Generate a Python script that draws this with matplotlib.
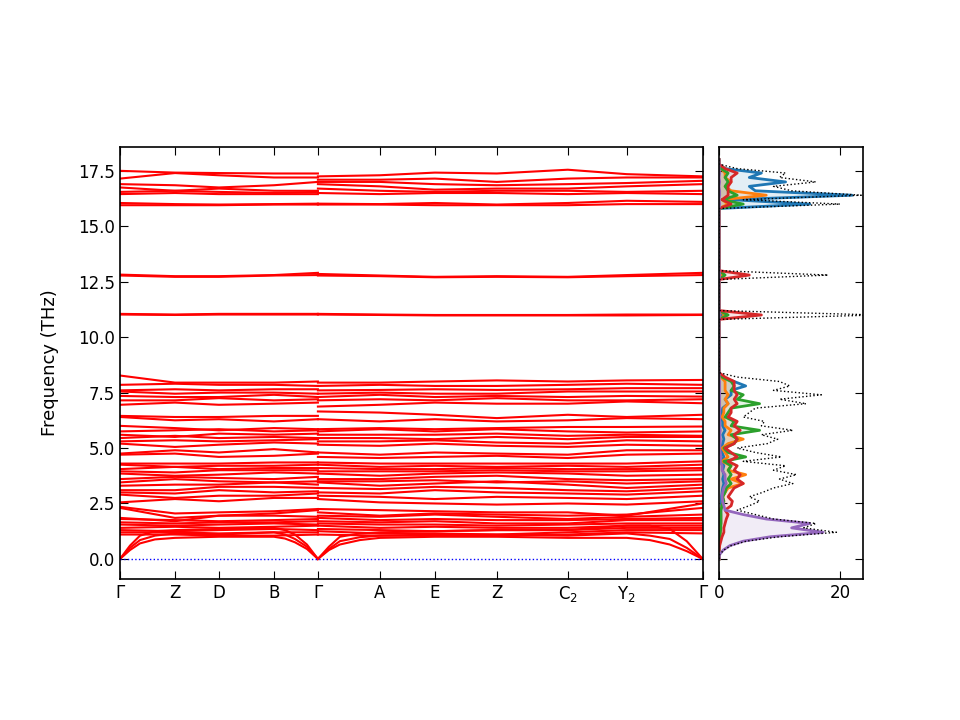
import matplotlib
matplotlib.use("Agg")
import matplotlib.pyplot as plt

# high-symmetry points along the path (path distance, arbitrary units)
klabels = ["Γ", "Z", "D", "B", "Γ", "A", "E", "Z", "C$_2$", "Y$_2$", "Γ"]
kleft = [0.0, 0.55, 0.99, 1.54, 1.98]
kright = [1.98, 2.60, 3.15, 3.77, 4.48, 5.07, 5.83]

# optical bands: values (THz) at Γ Z D B Γ | Γ A E Z C2 Y2 Γ
bands = [
    # top group
    [17.5, 17.42, 17.4, 17.38, 17.38, 17.25, 17.3, 17.42, 17.38, 17.55, 17.35, 17.25],
    [17.15, 17.4, 17.3, 17.2, 17.2, 17.1, 17.1, 17.15, 17.0, 17.15, 17.2, 17.2],
    [16.9, 16.85, 16.75, 16.85, 17.0, 17.0, 17.0, 16.9, 16.85, 16.9, 16.95, 17.05],
    [16.75, 16.6, 16.7, 16.6, 16.6, 16.9, 16.8, 16.65, 16.7, 16.7, 16.8, 16.9],
    [16.55, 16.6, 16.55, 16.5, 16.55, 16.7, 16.6, 16.55, 16.6, 16.6, 16.55, 16.6],
    [16.45, 16.5, 16.45, 16.45, 16.45, 16.5, 16.45, 16.5, 16.5, 16.45, 16.5, 16.45],
    [16.05, 16.0, 15.98, 16.0, 16.02, 16.02, 16.0, 16.05, 15.98, 16.05, 16.15, 16.1],
    [15.95, 15.95, 15.95, 15.98, 15.98, 15.98, 15.98, 15.95, 15.95, 15.95, 16.0, 16.0],
    # 12.8 and 11 THz
    [12.82, 12.75, 12.75, 12.8, 12.9, 12.85, 12.78, 12.72, 12.75, 12.72, 12.8, 12.9],
    [12.78, 12.72, 12.72, 12.78, 12.8, 12.78, 12.75, 12.7, 12.72, 12.7, 12.75, 12.8],
    [11.05, 11.02, 11.05, 11.05, 11.05, 11.05, 11.02, 11.0, 11.0, 11.0, 11.02, 11.02],
    [11.02, 11.0, 11.02, 11.02, 11.02, 11.02, 11.0, 10.98, 10.98, 10.98, 10.98, 11.0],
    # 4.5 - 8.3 THz
    [4.7, 4.75, 4.6, 4.65, 4.75, 4.6, 4.55, 4.6, 4.65, 4.55, 4.7, 4.75],
    [4.75, 4.9, 4.8, 4.95, 4.8, 4.8, 4.7, 4.8, 4.75, 4.7, 4.9, 4.9],
    [5.2, 5.05, 5.15, 5.25, 5.2, 5.15, 5.1, 5.2, 5.1, 5.05, 5.15, 5.1],
    [5.3, 5.35, 5.3, 5.35, 5.4, 5.3, 5.3, 5.35, 5.25, 5.2, 5.35, 5.3],
    [5.45, 5.55, 5.45, 5.5, 5.45, 5.45, 5.45, 5.4, 5.5, 5.4, 5.5, 5.5],
    [5.6, 5.5, 5.65, 5.6, 5.65, 5.6, 5.6, 5.6, 5.65, 5.55, 5.6, 5.55],
    [5.75, 5.8, 5.85, 5.75, 5.8, 5.75, 5.85, 5.75, 5.85, 5.75, 5.7, 5.75],
    [6.0, 5.9, 5.8, 5.9, 5.85, 5.85, 5.9, 5.85, 5.9, 5.95, 5.95, 5.97],
    [6.4, 6.25, 6.3, 6.2, 6.3, 6.3, 6.2, 6.3, 6.2, 6.25, 6.35, 6.3],
    [6.45, 6.4, 6.4, 6.45, 6.45, 6.65, 6.6, 6.5, 6.35, 6.5, 6.4, 6.5],
    [6.95, 7.05, 6.95, 7.0, 7.05, 6.87, 6.95, 7.05, 7.0, 7.0, 7.1, 7.02],
    [7.15, 7.15, 7.25, 7.15, 7.2, 7.15, 7.2, 7.15, 7.25, 7.15, 7.15, 7.2],
    [7.35, 7.3, 7.3, 7.4, 7.3, 7.3, 7.4, 7.3, 7.35, 7.3, 7.35, 7.32],
    [7.55, 7.45, 7.5, 7.5, 7.45, 7.45, 7.5, 7.45, 7.45, 7.55, 7.55, 7.55],
    [7.6, 7.65, 7.6, 7.65, 7.65, 7.6, 7.62, 7.65, 7.62, 7.65, 7.7, 7.7],
    [7.85, 7.9, 7.85, 7.85, 7.8, 7.8, 7.85, 7.8, 7.8, 7.85, 7.9, 7.85],
    [8.27, 7.95, 7.95, 7.95, 8.0, 7.95, 7.95, 8.0, 8.05, 8.0, 8.05, 8.07],
    # 2.5 - 4.4 THz
    [2.55, 2.7, 2.6, 2.75, 2.75, 2.7, 2.55, 2.5, 2.45, 2.5, 2.45, 2.6],
    [2.9, 2.75, 2.85, 2.85, 2.95, 2.85, 2.8, 2.7, 2.8, 2.75, 2.7, 2.85],
    [3.0, 2.95, 3.1, 3.0, 3.05, 3.0, 2.95, 3.1, 3.0, 2.95, 2.9, 3.05],
    [3.1, 3.1, 3.25, 3.25, 3.2, 3.2, 3.15, 3.25, 3.2, 3.1, 3.05, 3.2],
    [3.3, 3.35, 3.35, 3.45, 3.35, 3.45, 3.3, 3.4, 3.5, 3.35, 3.2, 3.35],
    [3.45, 3.6, 3.5, 3.45, 3.5, 3.5, 3.5, 3.55, 3.45, 3.5, 3.4, 3.5],
    [3.6, 3.7, 3.65, 3.6, 3.7, 3.6, 3.6, 3.7, 3.75, 3.6, 3.55, 3.6],
    [3.85, 3.75, 3.8, 3.9, 3.85, 3.85, 3.75, 3.85, 3.9, 3.85, 3.75, 3.8],
    [3.95, 3.9, 4.0, 4.0, 4.0, 3.95, 3.95, 3.95, 4.0, 3.95, 3.95, 4.0],
    [4.05, 4.15, 4.05, 4.1, 4.1, 4.1, 4.05, 4.05, 4.1, 4.05, 4.05, 4.1],
    [4.25, 4.15, 4.2, 4.2, 4.25, 4.25, 4.15, 4.2, 4.15, 4.2, 4.15, 4.25],
    [4.3, 4.3, 4.3, 4.35, 4.35, 4.35, 4.3, 4.3, 4.3, 4.3, 4.3, 4.4],
    # 1.0 - 2.5 THz
    [1.1, 1.1, 1.05, 1.05, 1.1, 1.1, 1.05, 1.05, 1.05, 1.1, 1.2, 1.15],
    [1.2, 1.2, 1.15, 1.2, 1.2, 1.25, 1.15, 1.15, 1.1, 1.2, 1.3, 1.3],
    [1.3, 1.25, 1.3, 1.35, 1.3, 1.35, 1.3, 1.25, 1.3, 1.3, 1.4, 1.4],
    [1.4, 1.45, 1.4, 1.45, 1.5, 1.5, 1.4, 1.45, 1.4, 1.4, 1.5, 1.5],
    [1.55, 1.5, 1.55, 1.6, 1.55, 1.6, 1.55, 1.55, 1.5, 1.55, 1.6, 1.6],
    [1.65, 1.6, 1.65, 1.65, 1.7, 1.7, 1.65, 1.7, 1.6, 1.6, 1.75, 1.75],
    [1.8, 1.75, 1.7, 1.75, 1.8, 1.85, 1.75, 1.8, 1.75, 1.75, 1.8, 1.85],
    [1.85, 1.7, 1.95, 1.95, 1.9, 1.95, 1.9, 2.0, 1.9, 1.8, 1.9, 2.0],
    [2.3, 1.85, 1.95, 2.05, 2.2, 2.1, 1.95, 2.05, 2.0, 1.95, 2.0, 2.3],
    [2.35, 2.05, 2.1, 2.15, 2.25, 2.25, 2.2, 2.15, 2.1, 2.1, 1.95, 2.5],
]

# acoustic branches, sampled a little finer near Γ
ac_kleft = [0.0, 0.1, 0.2, 0.35, 0.55, 0.99, 1.54, 1.65, 1.75, 1.87, 1.98]
ac_left = [
    [0, 0.4, 0.7, 0.88, 0.95, 1.0, 1.0, 0.92, 0.75, 0.45, 0],
    [0, 0.5, 0.85, 1.05, 1.15, 1.1, 1.2, 1.1, 0.9, 0.55, 0],
    [0, 0.6, 1.05, 1.25, 1.3, 1.35, 1.4, 1.3, 1.1, 0.65, 0],
]
ac_kright = [1.98, 2.09, 2.2, 2.4, 2.60, 3.15, 3.77, 4.48, 5.07, 5.3, 5.5, 5.67, 5.83]
ac_right = [
    [0, 0.4, 0.65, 0.85, 0.95, 1.0, 1.0, 0.95, 0.95, 0.85, 0.65, 0.35, 0],
    [0, 0.45, 0.8, 0.98, 1.05, 1.1, 1.1, 1.05, 1.15, 1.05, 0.9, 0.5, 0],
    [0, 0.55, 1.0, 1.15, 1.2, 1.25, 1.3, 1.3, 1.5, 1.5, 1.35, 0.8, 0],
]

# density of states on a 0.2 THz grid, 0 .. 18 THz
dos_freq = [round(0.2 * i, 1) for i in range(91)]
dos_total = [0, 0.1, 0.8, 2.0, 4.5, 10, 19.4, 14, 16, 9,
             6, 3, 5, 6.7, 5, 7.2, 9, 12.2, 10, 12.8,
             9, 11, 4, 10.3, 6, 3, 8, 9.7, 7, 12.2,
             7, 7.5, 4, 5, 6, 14.4, 10, 16.9, 9, 11.7,
             10, 3, 0, 0, 0, 0, 0, 0, 0, 0,
             0, 0, 0, 0, 0, 26, 0, 0, 0, 0,
             0, 0, 0, 0, 18, 0, 0, 0, 0, 0,
             0, 0, 0, 0, 0, 0, 0, 0, 0, 0,
             20, 4, 23.5, 12, 9, 16, 10, 11, 3, 0,
             0]
pdos_1 = [0, 0, 0, 0, 0, 0.1, 0.2, 0.2, 0.3, 0.3,
          0.3, 0.3, 0.4, 0.4, 0.4, 0.5, 0.6, 0.8, 0.6, 0.8,
          0.6, 0.8, 0.3, 0.8, 0.5, 0.3, 0.6, 0.8, 0.6, 1.0,
          0.6, 0.6, 0.3, 0.5, 0.6, 1.5, 1.0, 2.0, 2.0, 4.4,
          2.5, 0.5, 0, 0, 0, 0, 0, 0, 0, 0,
          0, 0, 0, 0, 0, 0.5, 0, 0, 0, 0,
          0, 0, 0, 0, 0.4, 0, 0, 0, 0, 0,
          0, 0, 0, 0, 0, 0, 0, 0, 0, 0,
          15, 2, 22, 6, 5, 11, 5, 7, 1, 0,
          0]
pdos_2 = [0, 0, 0, 0, 0, 0.1, 0.2, 0.2, 0.3, 0.3,
          0.3, 0.2, 0.5, 0.8, 0.6, 1.0, 1.5, 4.0, 2.0, 4.4,
          1.5, 2.0, 0.5, 1.5, 1.0, 0.5, 1.5, 4.0, 1.5, 2.0,
          1.0, 1.0, 0.5, 0.8, 0.8, 1.5, 1.0, 1.5, 1.0, 1.0,
          1.0, 0.3, 0, 0, 0, 0, 0, 0, 0, 0,
          0, 0, 0, 0, 0, 1.0, 0, 0, 0, 0,
          0, 0, 0, 0, 0.5, 0, 0, 0, 0, 0,
          0, 0, 0, 0, 0, 0, 0, 0, 0, 0,
          1.5, 0.5, 7.8, 2.0, 1.0, 2.0, 1.0, 1.0, 0.3, 0,
          0]
pdos_3 = [0, 0, 0, 0, 0, 0.1, 0.2, 0.3, 0.3, 0.3,
          0.3, 0.3, 0.5, 0.8, 0.6, 1.0, 1.2, 2.0, 1.5, 2.0,
          1.5, 2.0, 0.8, 4.4, 1.5, 0.8, 2.5, 3.0, 2.0, 6.7,
          2.0, 2.5, 1.0, 1.5, 2.0, 6.7, 3.0, 4.0, 2.0, 2.5,
          2.0, 0.5, 0, 0, 0, 0, 0, 0, 0, 0,
          0, 0, 0, 0, 0, 1.5, 0, 0, 0, 0,
          0, 0, 0, 0, 1.0, 0, 0, 0, 0, 0,
          0, 0, 0, 0, 0, 0, 0, 0, 0, 0,
          4.0, 0.5, 3.0, 1.5, 1.0, 1.5, 1.0, 1.5, 0.3, 0,
          0]
pdos_4 = [0, 0, 0, 0.1, 0.3, 0.5, 0.8, 0.8, 1.0, 1.2,
          1.5, 1.0, 2.0, 2.2, 1.5, 2.0, 2.5, 4.0, 3.0, 3.5,
          2.5, 3.0, 1.5, 3.0, 2.0, 1.0, 2.5, 3.0, 2.5, 3.5,
          2.5, 3.0, 1.5, 2.0, 2.0, 3.0, 2.5, 3.0, 2.5, 2.5,
          2.5, 1.0, 0, 0, 0, 0, 0, 0, 0, 0,
          0, 0, 0, 0, 0, 7.0, 0, 0, 0, 0,
          0, 0, 0, 0, 5.0, 0, 0, 0, 0, 0,
          0, 0, 0, 0, 0, 0, 0, 0, 0, 0,
          2.0, 0.5, 1.5, 1.5, 1.5, 2.0, 2.0, 3.0, 1.0, 0,
          0]
pdos_5 = [0, 0.1, 0.7, 1.8, 4.0, 8.5, 17.2, 12, 15, 7.8,
          4.0, 1.0, 0.8, 0.6, 0.5, 0.6, 0.8, 1.2, 1.0, 1.0,
          0.5, 0.5, 0.2, 0.3, 0.2, 0.1, 0.2, 0.2, 0.1, 0.2,
          0.1, 0.1, 0.1, 0.1, 0.1, 0.1, 0.1, 0.1, 0.1, 0.1,
          0.1, 0, 0, 0, 0, 0, 0, 0, 0, 0,
          0, 0, 0, 0, 0, 0.1, 0, 0, 0, 0,
          0, 0, 0, 0, 0.1, 0, 0, 0, 0, 0,
          0, 0, 0, 0, 0, 0, 0, 0, 0, 0,
          0.1, 0, 0.1, 0.1, 0, 0.1, 0, 0.1, 0, 0,
          0]
pdos_list = [pdos_1, pdos_2, pdos_3, pdos_4, pdos_5]
pdos_colors = ["tab:blue", "tab:orange", "tab:green", "tab:red", "tab:purple"]

fig = plt.figure(figsize=(9.6, 7.2), dpi=100)
ax = fig.add_axes([0.125, 0.196, 0.607, 0.6])
axd = fig.add_axes([0.749, 0.196, 0.150, 0.6])

ylo, yhi = -0.9, 18.58

for b in bands:
    ax.plot(kleft, b[:5], color="red", lw=1.5)
    ax.plot(kright, b[5:], color="red", lw=1.5)
for b in ac_left:
    ax.plot(ac_kleft, b, color="red", lw=1.5)
for b in ac_right:
    ax.plot(ac_kright, b, color="red", lw=1.5)

ax.axhline(0, color="blue", ls=":", lw=1)

kticks = kleft + kright[1:]
ax.set_xticks(kticks)
ax.set_xticklabels(klabels)
ax.set_xlim(kticks[0], kticks[-1])
ax.set_ylim(ylo, yhi)
ax.set_yticks([0, 2.5, 5, 7.5, 10, 12.5, 15, 17.5])
ax.set_ylabel("Frequency (THz)", fontsize=13, labelpad=14)
ax.tick_params(direction="in", top=True, right=True, length=6, labelsize=12)

for p, c in zip(pdos_list, pdos_colors):
    axd.fill_betweenx(dos_freq, 0, p, color=c, alpha=0.12, lw=0)
    axd.plot(p, dos_freq, color=c, lw=2)
axd.plot(dos_total, dos_freq, color="black", ls=":", lw=1)

axd.set_ylim(ylo, yhi)
axd.set_xlim(0, 23.8)
axd.set_xticks([0, 20])
axd.set_yticks([0, 2.5, 5, 7.5, 10, 12.5, 15, 17.5])
axd.set_yticklabels([])
axd.tick_params(direction="in", top=True, right=True, length=6, labelsize=12)

for a in (ax, axd):
    for s in a.spines.values():
        s.set_linewidth(1.2)

fig.savefig("out.png", dpi=100)
